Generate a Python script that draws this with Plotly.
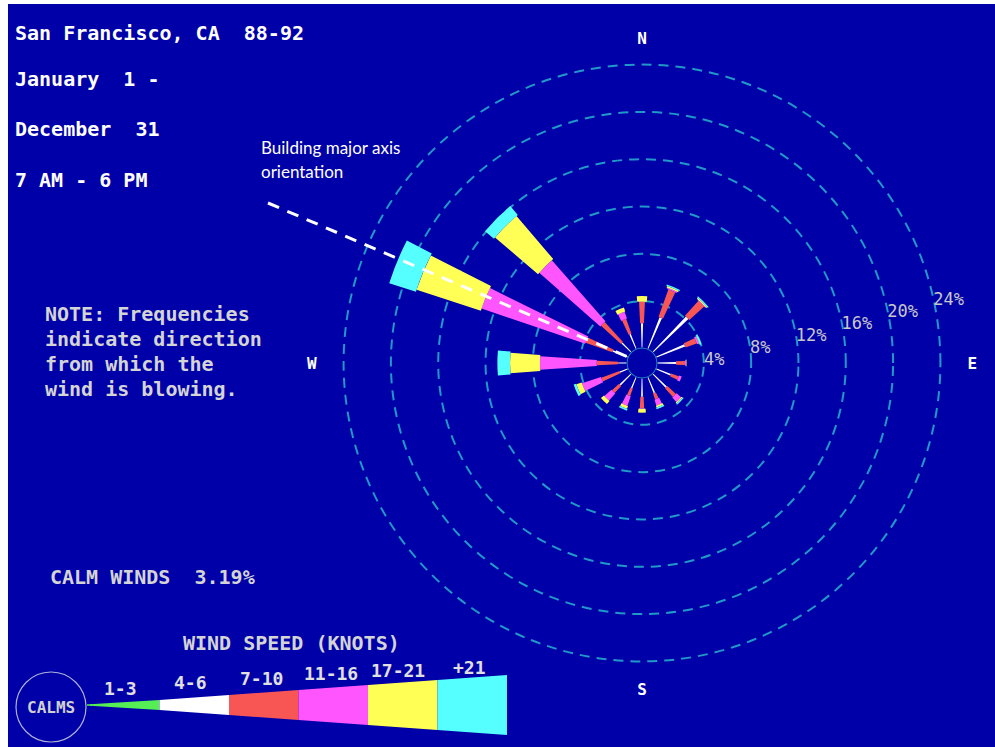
import plotly.graph_objects as go

W, H = 995, 747
BG = '#0000a8'
RING = '#2098c8'

# ---------------- data ----------------
directions = ['N', 'NNE', 'NE', 'ENE', 'E', 'ESE', 'SE', 'SSE',
              'S', 'SSW', 'SW', 'WSW', 'W', 'WNW', 'NW', 'NNW']
theta = [0, 22.5, 45, 67.5, 90, 112.5, 135, 157.5,
         180, 202.5, 225, 247.5, 270, 292.5, 315, 337.5]

speed_classes = ['1-3', '4-6', '7-10', '11-16', '17-21', '+21']

# frequency (%) per direction for each wind-speed class
freq_1_3 = [0.10, 0.10, 0.10, 0.10, 0.10, 0.10, 0.10, 0.10,
            0.10, 0.10, 0.10, 0.10, 0.10, 0.10, 0.10, 0.10]
freq_4_6 = [2.03, 2.82, 4.08, 2.58, 1.55, 1.29, 1.57, 1.40,
            1.52, 0.96, 1.29, 0.69, 0.68, 1.34, 1.07, 1.31]
freq_7_10 = [1.83, 2.45, 1.69, 1.00, 0.76, 0.68, 0.99, 0.55,
             0.98, 0.68, 0.82, 1.65, 1.82, 2.40, 2.29, 1.33]
freq_11_16 = [0.00, 0.12, 0.05, 0.17, 0.08, 0.25, 0.51, 0.53,
              0.05, 0.86, 0.79, 1.69, 4.80, 9.26, 6.87, 0.62]
freq_17_21 = [0.48, 0.13, 0.12, 0.05, 0.05, 0.00, 0.10, 0.15,
              0.33, 0.25, 0.34, 0.48, 2.53, 5.71, 4.78, 0.35]
freq_21_plus = [0.00, 0.11, 0.09, 0.15, 0.00, 0.00, 0.11, 0.14,
                0.00, 0.15, 0.00, 0.22, 1.07, 2.37, 0.99, 0.00]

ring_values = [4, 8, 12, 16, 20, 24]
ring_labels = ['4%', '8%', '12%', '16%', '20%', '24%']
compass_vals = [0, 90, 180, 270]
compass_labels = ['N', 'E', 'S', 'W']
calm_pct = 3.19

# ---------------- style ----------------
class_colors = ['#55ee55', '#ffffff', '#f85555', '#ff55ff', '#ffff55', '#55ffff']
class_widths = [1.5, 3.0, 5.5, 7.5, 9.0, 10.0]   # angular width (deg)
series = [freq_1_3, freq_4_6, freq_7_10, freq_11_16, freq_17_21, freq_21_plus]

MONO = 'DejaVu Sans Mono'
NB = '\u00a0'

def px(x):
    return x / W

def py(y):
    return 1 - y / H

fig = go.Figure()

for name, vals, col, wd in zip(speed_classes, series, class_colors, class_widths):
    fig.add_trace(go.Barpolar(
        r=vals, theta=theta, width=wd, name=name,
        marker=dict(color=col, line=dict(width=0)),
        showlegend=False, hoverinfo='skip'))

# calm circle at the hole edge
fig.add_trace(go.Scatterpolar(
    r=[0] * 73, theta=[i * 5 for i in range(73)], mode='lines',
    line=dict(color=RING, width=1.5), showlegend=False, hoverinfo='skip'))

# geometry: centre, hole radius, px per percent
cx, cy = 642, 363
hole_px, k = 14.5, 11.83
rmax = 24.4
R = hole_px + k * rmax

pad = {'E': NB + NB, 'W': ''}
compass_text = []
for lab in compass_labels:
    if lab == 'E':
        compass_text.append(f'<b>{NB}{lab}</b>')
    elif lab == 'W':
        compass_text.append(f'<b>{lab}{NB}</b>')
    else:
        compass_text.append(f'<b>{lab}</b>')

fig.update_layout(
    width=W, height=H,
    margin=dict(l=0, r=0, t=0, b=0),
    paper_bgcolor='white', plot_bgcolor=BG,
    polar=dict(
        domain=dict(x=[px(cx - R), px(cx + R)], y=[py(cy + R), py(cy - R)]),
        hole=hole_px / R,
        bgcolor='rgba(0,0,0,0)',
        barmode='stack',
        radialaxis=dict(
            range=[0, rmax], tickvals=ring_values, ticktext=ring_labels,
            angle=14.5, side='clockwise', tickangle=14.5,
            showline=False, ticks='',
            gridcolor=RING, gridwidth=2, griddash='10px,7px',
            tickfont=dict(family=MONO, size=17, color='#c8c8c8')),
        angularaxis=dict(
            rotation=90, direction='clockwise',
            tickvals=compass_vals, ticktext=compass_text,
            showgrid=False, showline=False,
            ticks='outside', ticklen=9, tickcolor='rgba(0,0,0,0)',
            tickfont=dict(family=MONO, size=16, color='white')),
    ),
)

shapes = []
# blue background panel
shapes.append(dict(type='rect', xref='paper', yref='paper', layer='below',
                   x0=px(8), x1=1, y0=0, y1=py(4),
                   fillcolor=BG, line=dict(width=0)))

# building axis dashed line
shapes.append(dict(type='line', xref='paper', yref='paper',
                   x0=px(268), y0=py(203), x1=px(628), y1=py(357),
                   line=dict(color='white', width=3, dash='12px,9px')))

# legend wedge
lx0, lx1, lyc, lhalf = 90, 507, 705, 30
seg = (lx1 - lx0) / len(speed_classes)
for i, col in enumerate(class_colors):
    xa = lx0 + i * seg
    xb = xa + seg
    ha = max(0.8, (xa - lx0) / (lx1 - lx0) * lhalf)
    hb = (xb - lx0) / (lx1 - lx0) * lhalf
    path = (f'M {px(xa)},{py(lyc - ha)} L {px(xb)},{py(lyc - hb)} '
            f'L {px(xb)},{py(lyc + hb)} L {px(xa)},{py(lyc + ha)} Z')
    shapes.append(dict(type='path', xref='paper', yref='paper', path=path,
                       fillcolor=col, line=dict(width=0)))
shapes.append(dict(type='line', xref='paper', yref='paper',
                   x0=px(87), y0=py(lyc), x1=px(92), y1=py(lyc),
                   line=dict(color='#55ee55', width=1.5)))

# CALMS circle
ccx, ccy, cr = 51, 707, 35
shapes.append(dict(type='circle', xref='paper', yref='paper',
                   x0=px(ccx - cr), x1=px(ccx + cr), y0=py(ccy + cr), y1=py(ccy - cr),
                   line=dict(color='#b0b0d8', width=1.2)))
fig.update_layout(shapes=shapes)

ann = []

def text(t, x, y, size=20, color='white', xanchor='left', family=MONO, bold=True):
    ann.append(dict(text=(f'<b>{t}</b>' if bold else t), x=px(x), y=py(y),
                    xref='paper', yref='paper', xanchor=xanchor, yanchor='middle',
                    showarrow=False, font=dict(family=family, size=size, color=color)))

text(f'San Francisco, CA{NB}{NB}88-92', 13, 33)
text(f'January{NB}{NB}1 -', 13, 79)
text(f'December{NB}{NB}31', 13, 129)
text('7 AM - 6 PM', 13, 180)

note = ['NOTE: Frequencies', 'indicate direction', 'from which the', 'wind is blowing.']
for i, line in enumerate(note):
    text(line, 43, 314 + i * 25, color='#d4d4d4')

text(f'CALM WINDS{NB}{NB}{calm_pct:.2f}%', 48, 577, color='#d4d4d4')
text('WIND SPEED (KNOTS)', 181, 643, color='#d4d4d4')

legend_pos = [(120, 688), (190, 682), (261, 678), (331, 673), (398, 670), (469, 667)]
for lab, (x, y) in zip(speed_classes, legend_pos):
    text(lab, x, y, size=18, color='#e0e0e0', xanchor='center')

text('CALMS', ccx, ccy, size=16, color='#d0d0d0', xanchor='center')

text('Building major axis', 259, 147, size=17, family='Lato', bold=False)
text('orientation', 259, 172, size=17, family='Lato', bold=False)

fig.update_layout(annotations=ann)

fig.write_html('out.html', config={'displayModeBar': False},
               post_script="document.body.style.margin='0';document.body.style.padding='0';")
